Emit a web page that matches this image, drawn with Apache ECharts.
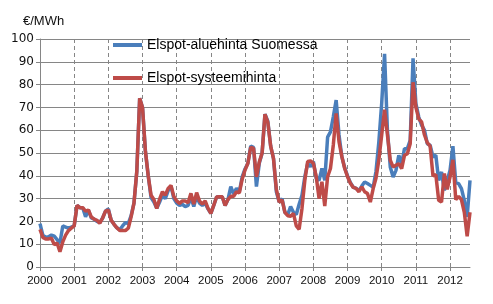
<!DOCTYPE html>
<html><head><meta charset="utf-8">
<script src="https://cdn.jsdelivr.net/npm/echarts@6/dist/echarts.min.js"></script>
<style>html,body{margin:0;padding:0;background:#fff}#c{width:493px;height:304px}</style>
</head><body><div id="c"></div>
<script>
const years = ['2000','2001','2002','2003','2004','2005','2006','2007','2008','2009','2010','2011','2012'];
const lastYearMonths = 8;
const yTicks = [0,10,20,30,40,50,60,70,80,90,100];
const unitLabel = '€/MWh';
const seriesNames = ['Elspot-aluehinta Suomessa','Elspot-systeemihinta'];
const finland = [
19,14,13,13.3,14,13.5,12,10.5,18,17.5,17,17.5,
18,27,26,26,22,25,21.5,21,20,19.5,21.5,24.5,
25.5,20.5,18.7,17.2,16.3,18,19.5,19,22.5,28,42,74,
70,51,40,30.5,28.5,25.7,28.5,31.5,30,33.5,35.5,30,
28,27,27.5,26.5,27,30.5,26.5,31,28,27,28,25.5,
23.5,27,30.7,30.8,30.8,27,29.6,35.3,32,34.5,33,39.5,
43,45.5,53,52.5,35.3,45.5,50,67,64,53,47.5,33,
28.5,30,24,23,26.5,24,23,27.5,31.5,39.6,45.5,44,
46.2,38.9,38,43.2,38,57,59.3,65.9,73.2,57.9,48.4,43.5,
40,37,35,34.5,33.5,35.5,37.3,36.6,35.8,35,42,55,
72,93.5,60,43.9,39.5,42.4,49,45.3,51.9,51.9,55.6,91.5,
71.7,65.8,62.2,60,54.1,53.4,48.3,49,38,41.7,33.6,38,
42.4,53,37,36.6,34.4,29.2,22,38];
const system = [
16.5,13,12.3,12.3,12.7,9.8,10.5,6.7,11,14,16,17,
18,27,26,26,24.5,25,22,21,20.5,19.2,21.5,24.5,
25,20.5,18.7,17.2,16,16,16,17,22,28,42,74,
70,51,40,31.5,29.6,25.7,29.8,33,31.5,34.5,35.8,31,
29,27.9,29,29,28.2,32.3,27.6,32.6,29,27.6,29,25.7,
23.5,27,30.7,30.8,30.8,27,29.6,31,31,33,32.5,38.5,
42.5,45.5,52.5,52,39.5,46,50,67,63.5,53,47.5,34,
28.5,29.4,24,22.5,22.3,23.5,18,16.5,25.7,38,46.3,46.5,
45.5,39.6,30,37.4,26.7,39.6,43.2,53.5,67.4,55,48.4,43.2,
39.6,36.7,34.9,34.5,33,35.2,33,32.2,28.5,34.4,39,47,
58,69,58,46.8,43.9,44.6,45.3,43.1,49,49.7,54.1,81,
70,65,63.6,58,54.5,53,40,40.5,29.3,28.5,41,34,
39.5,47,29.5,31,29.5,24,13.5,24];

const categories = [];
years.forEach((y, k) => {
  const n = (k === years.length - 1) ? lastYearMonths : 12;
  for (let m = 1; m <= n; m++) categories.push(y + '-' + (m < 10 ? '0' + m : m));
});

const grey = '#868686';
const chart = echarts.init(document.getElementById('c'), null, {renderer: 'canvas'});
chart.setOption({
  animation: false,
  graphic: [{
    type: 'text', left: 23, top: 15, silent: true,
    style: {text: unitLabel, font: '13px "Liberation Sans"', fill: '#111'}
  }],
  legend: {
    orient: 'vertical', left: 108, top: 33, itemGap: 19, itemWidth: 29, itemHeight: 4, icon: 'rect',
    textStyle: {fontFamily: 'Liberation Sans', fontSize: 14, color: '#000'},
    data: seriesNames
  },
  grid: {left: 40, right: 23, top: 39, bottom: 37, containLabel: false},
  xAxis: {
    type: 'category', data: categories, boundaryGap: false,
    axisLine: {lineStyle: {color: grey, width: 1}},
    axisTick: {show: true, interval: 11, length: 4, lineStyle: {color: grey}},
    axisLabel: {interval: 11, margin: 8, fontFamily: 'Liberation Sans', fontSize: 11.5, color: '#111', formatter: v => v.slice(0, 4)},
    splitLine: {show: true, interval: 11, lineStyle: {color: grey, type: [4, 3], width: 1}}
  },
  yAxis: {
    type: 'value', min: yTicks[0], max: yTicks[yTicks.length - 1], interval: 10,
    axisLine: {show: true, lineStyle: {color: grey}},
    axisTick: {show: true, length: 4, lineStyle: {color: grey}},
    axisLabel: {margin: 6, fontFamily: 'DejaVu Sans', fontSize: 12, color: '#111'},
    splitLine: {show: true, lineStyle: {color: grey, width: 1}}
  },
  series: [
    {name: seriesNames[0], type: 'line', data: finland, showSymbol: false, symbol: 'none',
     lineStyle: {color: '#4A7EBB', width: 3.5}, itemStyle: {color: '#4A7EBB'}},
    {name: seriesNames[1], type: 'line', data: system, showSymbol: false, symbol: 'none',
     lineStyle: {color: '#BE4B48', width: 3.5}, itemStyle: {color: '#BE4B48'}}
  ]
});
</script></body></html>
